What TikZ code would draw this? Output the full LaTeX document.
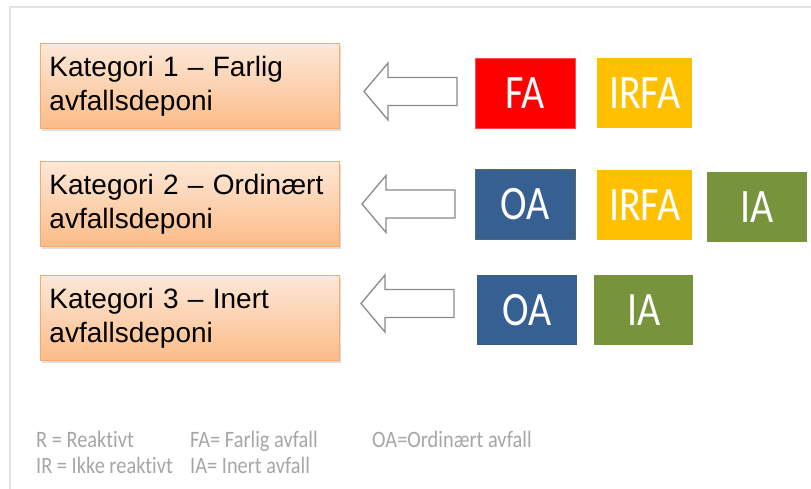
\documentclass[tikz,border=0pt]{standalone}
\usepackage{fontspec}
\setmainfont{Liberation Sans}
\newfontfamily\calfont[Ligatures=NoCommon]{Carlito}
\usetikzlibrary{shadows}
\definecolor{framegray}{HTML}{E4E4E4}
\definecolor{peachtop}{HTML}{FDE8D8}
\definecolor{peachbot}{HTML}{FBBC88}
\definecolor{peachedge}{HTML}{F8A86A}
\definecolor{faRed}{HTML}{FF0000}
\definecolor{irfaAmber}{HTML}{FFC000}
\definecolor{oaBlue}{HTML}{366092}
\definecolor{iaGreen}{HTML}{77933C}
\definecolor{arrowgray}{HTML}{8A8A8A}
\definecolor{legendgray}{HTML}{A6A6A6}
\tikzset{
  catbox/.style={draw=peachedge, line width=0.9pt, top color=peachtop, bottom color=peachbot,
    minimum width=299pt, minimum height=85pt, text width=281pt, inner xsep=9pt, align=left,
    font=\fontsize{28}{34}\selectfont, anchor=north west,
    drop shadow={shadow xshift=1.5pt, shadow yshift=-2.5pt, opacity=0.25}},
  tag/.style={minimum height=70pt, inner sep=0pt, text=white, font=\calfont\fontsize{40}{40}\selectfont, anchor=north west},
  blockarrow/.style={draw=arrowgray, line width=1.3pt, fill=white, line join=miter},
  legend/.style={text=legendgray, font=\calfont\fontsize{21}{24}\selectfont, anchor=base west, inner sep=0pt}
}
\newcommand{\stretchtxt}[1]{\scalebox{1}[1.2]{#1}}
\newcommand{\legtxt}[1]{\scalebox{0.97}[1.12]{#1}}
\begin{document}
\begin{tikzpicture}[x=1pt,y=-1pt]
\useasboundingbox (0,0) rectangle (811,489);
% faint frame
\draw[framegray, line width=1.5pt] (10,489) -- (10,7) -- (811,7);
% category boxes
\node[catbox] (k1) at (40,43) {Kategori 1 -- Farlig\\avfallsdeponi};
\node[catbox] (k2) at (40,161) {Kategori 2 -- Ordinært\\avfallsdeponi};
\node[catbox] (k3) at (40,275) {Kategori 3 -- Inert\\avfallsdeponi};
% block arrows (tip x, centre y)
\foreach \tx/\cy in {364/91.5, 362/204, 361/303.5}{
  \draw[blockarrow] (\tx,\cy) -- (\tx+24,\cy-28.5) -- (\tx+24,\cy-14) -- (\tx+93,\cy-14)
     -- (\tx+93,\cy+14) -- (\tx+24,\cy+14) -- (\tx+24,\cy+28.5) -- cycle;
}
% waste type tags
\node[tag, fill=faRed, draw=faRed!70!white, line width=0.6pt, minimum width=100pt] (fa1) at (475,58) {\stretchtxt{FA}};
\node[tag, fill=irfaAmber, minimum width=95pt] (irfa1) at (597,58) {\stretchtxt{IRFA}};
\node[tag, fill=oaBlue, draw=oaBlue!60!olive, line width=0.8pt, minimum width=100pt] (oa2) at (475,169) {\stretchtxt{OA}};
\node[tag, fill=irfaAmber, minimum width=95pt] (irfa2) at (597,170) {\stretchtxt{IRFA}};
\node[tag, fill=iaGreen, minimum width=100pt] (ia2) at (707,172) {\stretchtxt{IA}};
\node[tag, fill=oaBlue, minimum width=100pt] (oa3) at (477,275) {\stretchtxt{OA}};
\node[tag, fill=iaGreen, minimum width=99pt] (ia3) at (594,275) {\stretchtxt{IA}};
% legend
\node[legend] (l1) at (36,447) {\legtxt{R = Reaktivt}};
\node[legend] (l2) at (190,447) {\legtxt{FA= Farlig avfall}};
\node[legend] (l3) at (372,447) {\legtxt{OA=Ordinært avfall}};
\node[legend] (l4) at (36,473) {\legtxt{IR = Ikke reaktivt}};
\node[legend] (l5) at (190,473) {\legtxt{IA= Inert avfall}};
\end{tikzpicture}
\end{document}
